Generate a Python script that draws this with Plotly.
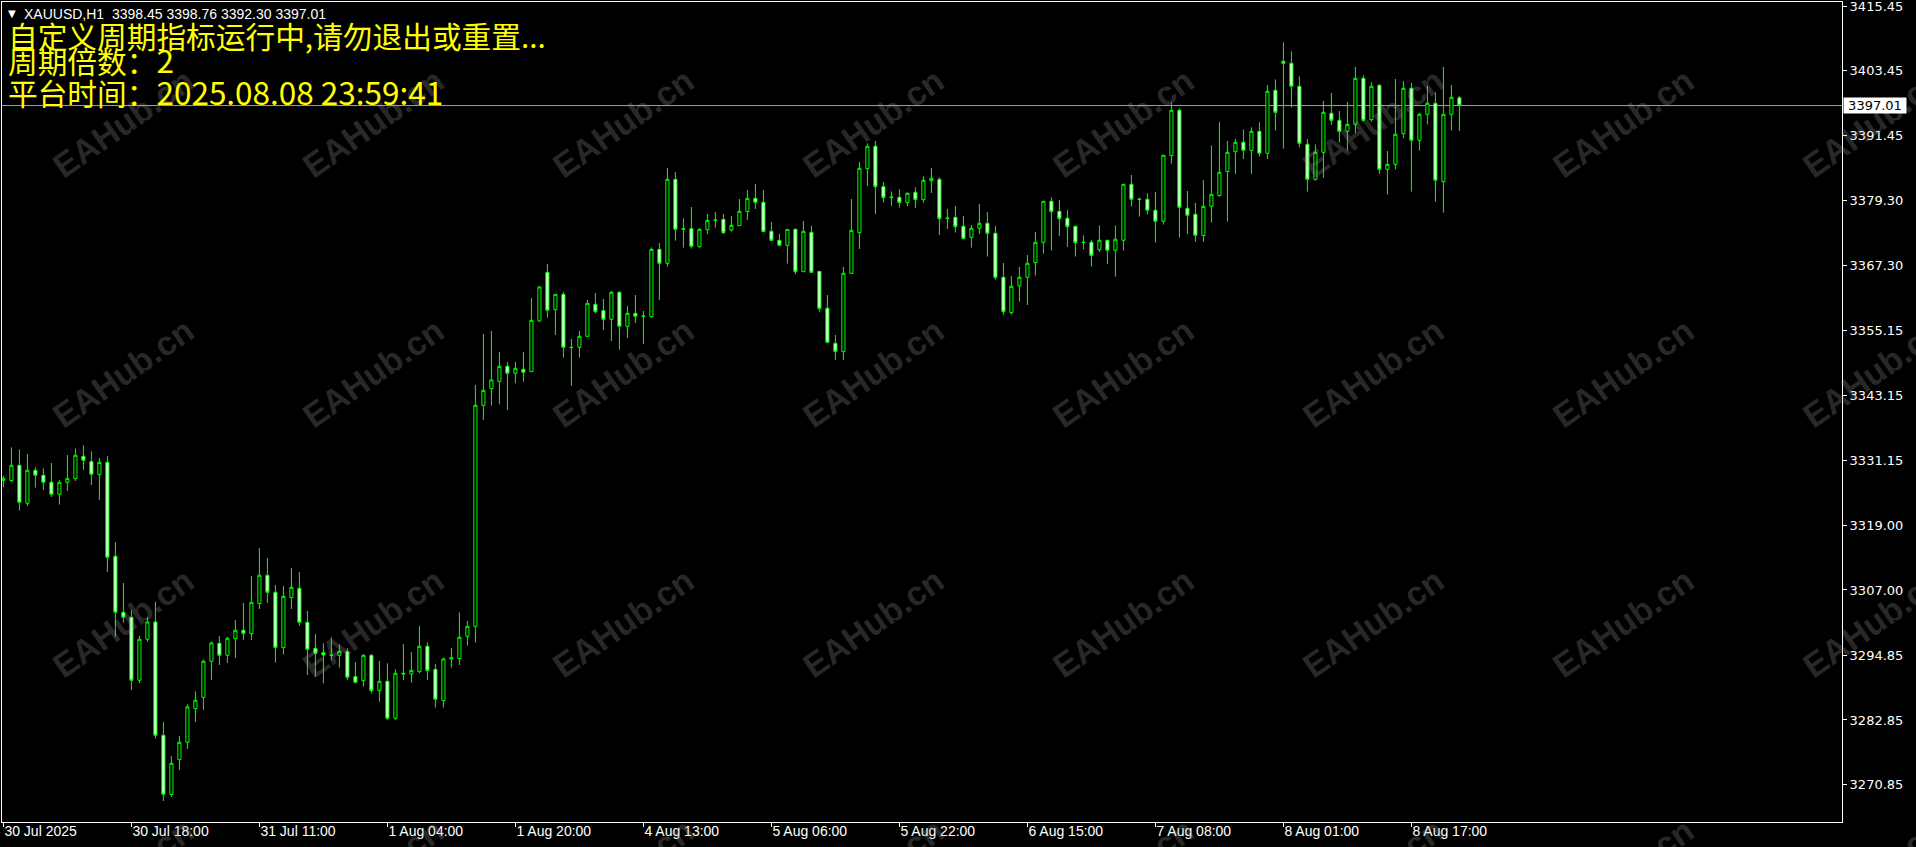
import plotly.graph_objects as go

# ---------------- data (XAUUSD) ----------------
opens = [3327.38,3327.32,3330.17,3323.11,3329.24,3328.31,3327.01,3324.78,3327.01,3327.69,
         3331.84,3330.85,3328.43,3330.72,3313.26,3302.86,3301.93,3290.22,3297.84,3301.06,
         3280.00,3269.00,3275.48,3278.70,3284.96,3287.06,3293.75,3297.10,3294.87,3297.96,
         3299.51,3298.89,3304.46,3309.73,3306.57,3296.29,3305.58,3307.31,3300.99,3296.16,
         3295.36,3294.90,3294.86,3295.55,3290.90,3290.16,3294.86,3288.30,3290.03,3283.16,
         3291.52,3291.40,3291.83,3296.54,3292.26,3286.44,3294.18,3294.25,3298.40,3300.25,
         3341.31,3344.41,3345.77,3348.56,3347.26,3348.00,3347.56,3356.98,3366.02,3359.09,
         3361.93,3352.09,3352.09,3354.13,3360.08,3358.90,3357.29,3362.31,3355.99,3358.40,
         3357.85,3357.79,3370.29,3367.69,3383.30,3374.01,3374.13,3370.79,3373.95,3375.68,
         3375.87,3373.90,3374.70,3377.30,3379.77,3379.03,3373.64,3371.97,3371.04,3374.01,
         3366.15,3373.45,3366.20,3359.34,3352.83,3351.29,3365.84,3373.40,3385.29,3389.44,
         3381.94,3379.90,3379.96,3378.97,3380.89,3379.53,3383.06,3383.30,3376.00,3376.24,
         3374.57,3372.53,3374.20,3375.13,3373.28,3365.10,3358.53,3363.50,3365.10,3367.83,
         3371.60,3379.22,3377.36,3376.06,3374.57,3371.54,3371.60,3370.24,3371.98,3370.12,
         3371.98,3382.38,3379.55,3379.60,3377.55,3375.51,3387.70,3396.12,3377.92,3376.81,
         3372.84,3378.29,3380.27,3384.73,3388.44,3390.18,3388.69,3392.22,3388.14,3399.84,
         3405.23,3404.86,3400.58,3389.81,3383.30,3388.32,3395.57,3394.27,3392.22,3393.52,
         3402.07,3394.39,3400.77,3385.16,3386.09,3391.79,3400.21,3390.55,3395.38,3397.43,
         3382.87,3395.38,3398.45]
highs = [3328.19,3333.51,3333.14,3332.27,3329.80,3329.61,3330.60,3327.44,3332.09,3333.33,
         3333.88,3332.77,3331.53,3331.90,3315.86,3308.31,3303.23,3298.46,3301.99,3304.78,
         3282.48,3276.16,3279.88,3285.76,3288.18,3294.06,3297.41,3298.46,3298.27,3301.43,
         3304.59,3309.60,3314.80,3312.95,3307.93,3307.74,3311.09,3310.34,3303.10,3298.83,
         3297.09,3298.21,3296.91,3296.16,3293.56,3295.11,3295.11,3293.81,3293.38,3292.26,
         3296.97,3295.48,3300.31,3297.28,3293.25,3294.43,3296.22,3302.85,3301.24,3345.09,
         3354.56,3355.12,3351.22,3349.36,3349.36,3351.22,3361.25,3363.48,3367.57,3362.00,
         3362.37,3353.64,3355.12,3360.88,3362.18,3361.07,3362.55,3362.49,3359.77,3361.81,
         3358.84,3370.67,3371.47,3385.41,3384.66,3376.05,3378.16,3374.20,3376.86,3377.23,
         3376.86,3376.49,3379.65,3381.32,3382.44,3381.32,3375.38,3373.15,3374.05,3374.20,
         3375.56,3374.63,3366.25,3361.81,3354.38,3367.02,3379.65,3386.52,3389.99,3390.43,
         3382.81,3381.07,3381.45,3380.89,3381.82,3383.86,3385.41,3383.68,3377.79,3378.35,
         3376.49,3374.82,3378.73,3377.24,3374.64,3367.76,3365.35,3367.02,3369.25,3373.52,
         3379.30,3379.96,3379.47,3377.61,3374.65,3372.90,3372.04,3374.76,3372.05,3374.76,
         3382.45,3384.11,3379.90,3380.71,3380.96,3387.85,3397.55,3396.49,3381.14,3378.91,
         3383.18,3389.62,3393.96,3390.43,3390.80,3392.59,3392.97,3393.90,3400.83,3401.88,
         3408.76,3407.09,3402.44,3390.80,3389.81,3397.86,3399.35,3396.00,3397.67,3404.18,
         3402.63,3401.33,3401.02,3388.57,3401.95,3401.57,3401.20,3395.63,3400.65,3399.47,
         3404.18,3400.83,3398.76]
lows = [3326.08,3327.07,3321.74,3322.61,3326.02,3325.58,3324.28,3322.86,3325.40,3327.26,
        3329.30,3326.51,3323.73,3310.35,3298.34,3300.94,3288.43,3289.67,3297.41,3279.38,
        3267.80,3268.55,3273.56,3277.46,3282.48,3284.71,3290.28,3293.07,3293.44,3294.37,
        3297.72,3297.71,3303.47,3304.59,3293.50,3294.99,3303.47,3300.37,3291.21,3290.90,
        3289.66,3293.87,3292.57,3290.28,3289.66,3289.04,3287.80,3286.25,3282.85,3282.85,
        3290.28,3289.78,3291.52,3290.28,3285.14,3285.14,3292.57,3293.07,3296.66,3297.22,
        3338.59,3341.26,3341.50,3340.45,3345.40,3345.71,3347.50,3356.79,3357.60,3354.38,
        3350.17,3344.96,3350.17,3354.07,3358.40,3355.31,3353.26,3351.65,3353.82,3356.61,
        3352.71,3357.60,3360.88,3367.07,3371.90,3370.60,3370.42,3370.60,3373.08,3374.32,
        3373.14,3373.58,3374.60,3375.75,3377.79,3373.50,3371.90,3371.00,3367.64,3365.65,
        3366.03,3365.97,3358.72,3352.83,3349.74,3349.74,3365.72,3370.36,3382.07,3376.86,
        3378.97,3378.35,3378.04,3378.35,3377.98,3378.97,3380.77,3372.96,3374.08,3373.40,
        3372.16,3370.61,3373.15,3368.94,3364.67,3358.16,3358.16,3360.58,3359.96,3365.41,
        3369.50,3370.06,3372.78,3370.74,3368.94,3370.30,3367.08,3369.81,3367.58,3365.22,
        3370.06,3378.23,3376.37,3376.81,3371.54,3374.89,3386.20,3372.47,3373.15,3371.73,
        3371.72,3375.25,3380.08,3375.44,3384.30,3387.08,3384.30,3387.52,3387.08,3392.35,
        3389.00,3396.62,3389.25,3381.01,3383.06,3383.61,3393.40,3390.12,3388.63,3391.91,
        3393.96,3394.02,3384.30,3380.46,3385.16,3390.92,3381.01,3388.63,3393.52,3379.16,
        3377.11,3392.35,3392.30]
closes = [3327.75,3330.17,3323.29,3329.24,3328.31,3327.01,3324.78,3327.01,3327.69,3332.03,
          3331.10,3328.50,3330.72,3313.07,3302.86,3301.93,3290.22,3297.84,3301.06,3280.00,
          3269.04,3274.80,3278.70,3285.27,3286.51,3293.75,3297.16,3294.87,3298.03,3299.51,
          3298.95,3304.71,3309.73,3306.57,3296.29,3305.82,3307.50,3300.99,3295.98,3295.23,
          3294.92,3294.86,3295.61,3290.78,3289.85,3294.86,3288.30,3290.03,3283.16,3291.52,
          3291.40,3292.07,3296.54,3292.01,3286.69,3294.18,3294.40,3298.21,3300.25,3341.31,
          3344.10,3346.02,3348.56,3347.26,3348.19,3347.44,3357.10,3363.30,3358.96,3361.93,
          3352.09,3352.05,3354.13,3360.26,3358.71,3357.29,3362.31,3355.99,3358.40,3357.85,
          3357.90,3370.29,3367.69,3383.30,3374.01,3374.10,3370.85,3374.01,3375.68,3375.75,
          3373.39,3374.76,3377.36,3379.77,3379.03,3373.58,3371.97,3371.04,3374.01,3366.15,
          3373.64,3366.03,3359.28,3353.02,3351.29,3365.84,3373.83,3385.35,3389.44,3381.94,
          3379.90,3380.00,3378.97,3380.70,3379.53,3383.12,3383.49,3376.00,3376.10,3374.51,
          3372.28,3374.20,3375.13,3373.28,3365.04,3358.72,3363.43,3365.10,3367.70,3371.60,
          3379.22,3377.30,3376.00,3374.51,3371.54,3371.60,3369.13,3371.98,3370.12,3372.16,
          3382.38,3379.59,3379.60,3377.55,3375.51,3387.77,3396.12,3378.10,3376.62,3372.90,
          3378.29,3380.52,3384.61,3388.32,3390.18,3388.69,3392.22,3388.14,3399.65,3395.75,
          3404.86,3400.58,3389.99,3383.30,3388.32,3395.75,3394.27,3392.22,3393.52,3402.07,
          3394.27,3400.58,3385.16,3386.09,3391.67,3400.21,3390.55,3395.38,3397.43,3383.12,
          3395.38,3398.54,3397.01]

bar_index = list(range(len(opens)))

time_tick_bars = [0, 16, 32, 48, 64, 80, 96, 112, 128, 144, 160, 176]
time_tick_labels = ["30 Jul 2025", "30 Jul 18:00", "31 Jul 11:00", "1 Aug 04:00",
                    "1 Aug 20:00", "4 Aug 13:00", "5 Aug 06:00", "5 Aug 22:00",
                    "6 Aug 15:00", "7 Aug 08:00", "8 Aug 01:00", "8 Aug 17:00"]

price_ticks = [3415.45, 3403.45, 3391.45, 3379.30, 3367.30, 3355.15, 3343.15,
               3331.15, 3319.00, 3307.00, 3294.85, 3282.85, 3270.85]

last_price = 3397.01
symbol_line = "XAUUSD,H1\u00a0\u00a03398.45 3398.76 3392.30 3397.01"
info_line1 = "自定义周期指标运行中,请勿退出或重置..."
info_label2, info_value2 = "周期倍数：", "2"
info_label3, info_value3 = "平台时间：", "2025.08.08 23:59:41"
watermark = "EAHub.cn"

# ---------------- layout geometry ----------------
W, H = 1916, 847
ML, MR, MT, MB = 2, 74, 2, 25
PW, PH = W - ML - MR, H - MT - MB


def px_x(px):
    return (px - ML) / PW


def px_y(py):
    return (H - MB - py) / PH


fig = go.Figure()
fig.add_trace(go.Candlestick(
    x=bar_index, open=opens, high=highs, low=lows, close=closes,
    increasing=dict(line=dict(color="#00FF00", width=1), fillcolor="#000000"),
    decreasing=dict(line=dict(color="#00FF00", width=1), fillcolor="#FFFFFF"),
    whiskerwidth=0, hoverinfo="none", showlegend=False,
))

annotations = []
# watermark grid
for cx in [123, 373, 623, 873, 1123, 1373, 1623, 1873]:
    for cy in [123, 373, 623, 873]:
        annotations.append(dict(
            x=px_x(cx), y=px_y(cy), xref="paper", yref="paper",
            text="<b>" + watermark + "</b>", showarrow=False, textangle=-35,
            font=dict(family="Liberation Sans, Arial, sans-serif", size=34,
                      color="rgba(160,160,160,0.25)"),
            xanchor="center", yanchor="middle"))

# symbol header
annotations.append(dict(x=px_x(6), y=px_y(13.5), xref="paper", yref="paper",
                        text="▼", showarrow=False, xanchor="left", yanchor="middle",
                        font=dict(family="DejaVu Sans", size=10, color="#FFFFFF")))
annotations.append(dict(x=px_x(22), y=px_y(13.5), xref="paper", yref="paper",
                        text=symbol_line, showarrow=False, xanchor="left", yanchor="middle",
                        font=dict(family="Liberation Sans, Arial, sans-serif", size=14,
                                  color="#FFFFFF")))

latin = '<span style="font-size:31.5px">{}</span>'
info_texts = [info_line1,
              info_label2 + latin.format(info_value2),
              info_label3 + latin.format(info_value3)]
for txt, cy in zip(info_texts, [35, 59, 91]):
    annotations.append(dict(x=px_x(6), y=px_y(cy), xref="paper", yref="paper",
                            text=txt, showarrow=False, xanchor="left", yanchor="middle",
                            font=dict(family="Noto Sans CJK SC", size=29.7, color="#FFFF00")))

# current price label
annotations.append(dict(x=1, y=last_price, xref="paper", yref="y",
                        text=f"{last_price:.2f}", showarrow=False, xanchor="left",
                        yanchor="middle", xshift=1, width=62, height=15,
                        bgcolor="#FFFFFF", borderpad=0,
                        font=dict(family="DejaVu Sans", size=13, color="#000000")))

fig.update_layout(
    width=W, height=H,
    margin=dict(l=ML, r=MR, t=MT, b=MB, pad=0, autoexpand=False),
    paper_bgcolor="#000000", plot_bgcolor="#000000",
    showlegend=False, boxgap=0.45,
    annotations=annotations,
    shapes=[dict(type="line", xref="paper", x0=0, x1=1, yref="y",
                 y0=last_price, y1=last_price, layer="below",
                 line=dict(color="#A0A0A8", width=1))],
    xaxis=dict(
        range=[-0.175, 229.825], rangeslider=dict(visible=False),
        automargin=False,
        showgrid=False, zeroline=False,
        showline=True, mirror=True, linecolor="#FFFFFF", linewidth=1,
        tickmode="array", tickvals=time_tick_bars, ticktext=time_tick_labels,
        ticks="outside", ticklen=4, tickcolor="#FFFFFF",
        ticklabelposition="outside right", ticklabelstandoff=-4,
        ticklabeloverflow="allow",
        tickfont=dict(family="Liberation Sans, Arial, sans-serif", size=14, color="#FFFFFF"),
        fixedrange=True,
    ),
    yaxis=dict(
        range=[3263.89, 3416.25], side="right",
        automargin=False,
        showgrid=False, zeroline=False,
        showline=True, mirror=True, linecolor="#FFFFFF", linewidth=1,
        tickmode="array", tickvals=price_ticks,
        ticktext=[f"{v:.2f}" for v in price_ticks],
        ticks="outside", ticklen=4, tickcolor="#FFFFFF",
        ticklabeloverflow="allow",
        tickfont=dict(family="DejaVu Sans", size=13, color="#FFFFFF"),
        fixedrange=True,
    ),
)

fig.write_html(
    "out.html",
    config={"displayModeBar": False},
    post_script="document.body.style.margin='0';document.body.style.overflow='hidden';"
                "document.documentElement.style.background='#000';",
)
